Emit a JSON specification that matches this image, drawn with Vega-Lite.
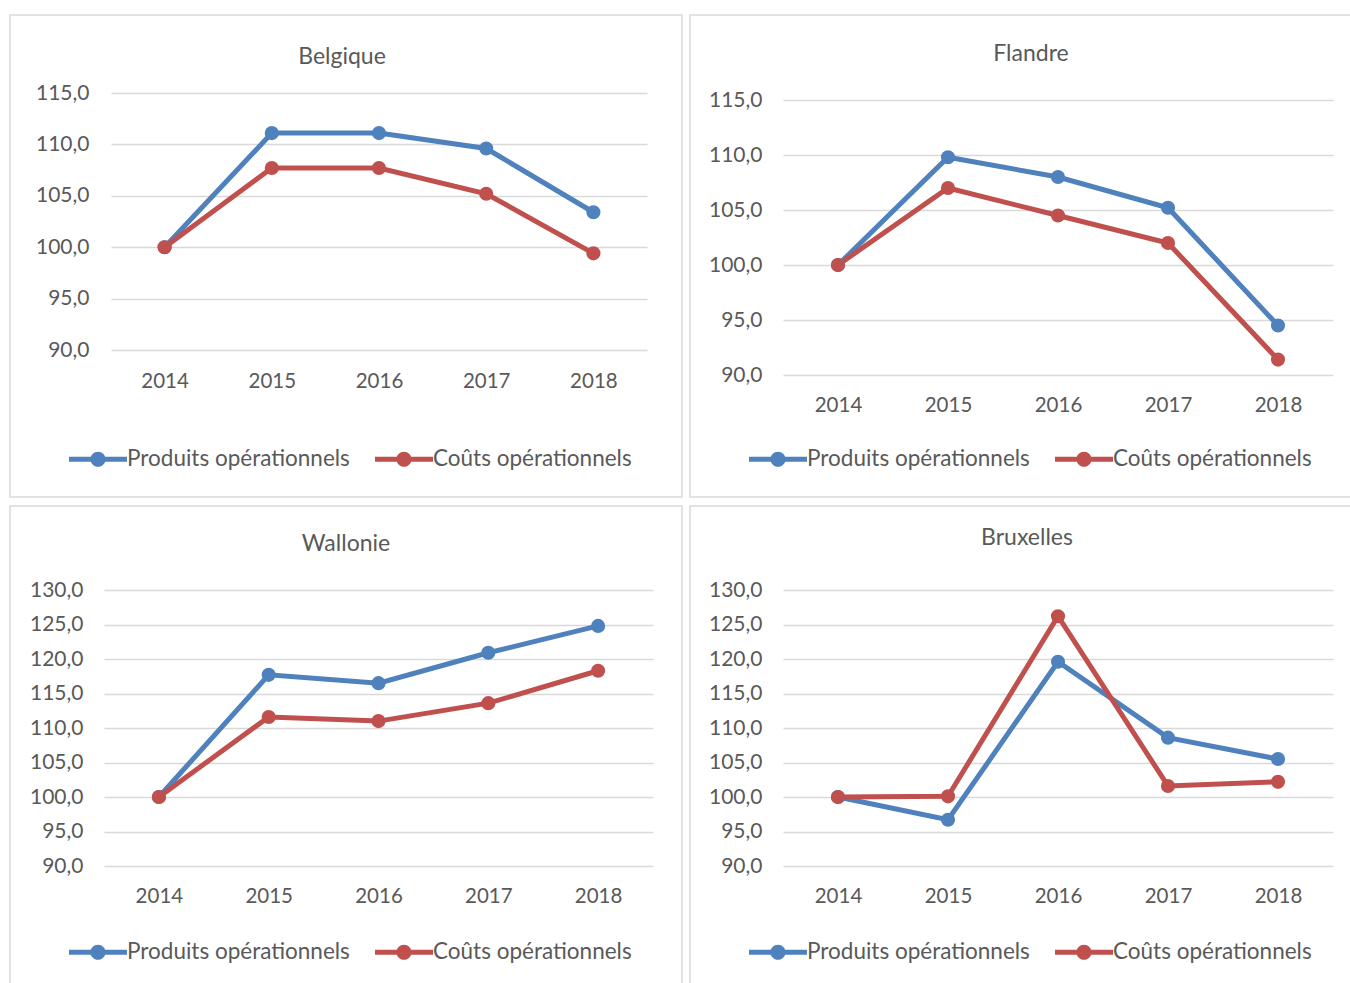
{
  "$schema": "https://vega.github.io/schema/vega-lite/v6.json",
  "padding": {"left": 9, "top": 14, "right": 0, "bottom": 0},
  "background": "white",
  "data": {"values": [
    {"region": "Belgique", "annee": "2014", "serie": "Produits opérationnels", "valeur": 100.0},
    {"region": "Belgique", "annee": "2015", "serie": "Produits opérationnels", "valeur": 111.1},
    {"region": "Belgique", "annee": "2016", "serie": "Produits opérationnels", "valeur": 111.1},
    {"region": "Belgique", "annee": "2017", "serie": "Produits opérationnels", "valeur": 109.6},
    {"region": "Belgique", "annee": "2018", "serie": "Produits opérationnels", "valeur": 103.4},
    {"region": "Flandre", "annee": "2014", "serie": "Produits opérationnels", "valeur": 100.0},
    {"region": "Flandre", "annee": "2015", "serie": "Produits opérationnels", "valeur": 109.8},
    {"region": "Flandre", "annee": "2016", "serie": "Produits opérationnels", "valeur": 108.0},
    {"region": "Flandre", "annee": "2017", "serie": "Produits opérationnels", "valeur": 105.2},
    {"region": "Flandre", "annee": "2018", "serie": "Produits opérationnels", "valeur": 94.5},
    {"region": "Wallonie", "annee": "2014", "serie": "Produits opérationnels", "valeur": 100.0},
    {"region": "Wallonie", "annee": "2015", "serie": "Produits opérationnels", "valeur": 117.7},
    {"region": "Wallonie", "annee": "2016", "serie": "Produits opérationnels", "valeur": 116.5},
    {"region": "Wallonie", "annee": "2017", "serie": "Produits opérationnels", "valeur": 120.9},
    {"region": "Wallonie", "annee": "2018", "serie": "Produits opérationnels", "valeur": 124.8},
    {"region": "Bruxelles", "annee": "2014", "serie": "Produits opérationnels", "valeur": 100.0},
    {"region": "Bruxelles", "annee": "2015", "serie": "Produits opérationnels", "valeur": 96.7},
    {"region": "Bruxelles", "annee": "2016", "serie": "Produits opérationnels", "valeur": 119.6},
    {"region": "Bruxelles", "annee": "2017", "serie": "Produits opérationnels", "valeur": 108.6},
    {"region": "Bruxelles", "annee": "2018", "serie": "Produits opérationnels", "valeur": 105.5},
    {"region": "Belgique", "annee": "2014", "serie": "Coûts opérationnels", "valeur": 100.0},
    {"region": "Belgique", "annee": "2015", "serie": "Coûts opérationnels", "valeur": 107.7},
    {"region": "Belgique", "annee": "2016", "serie": "Coûts opérationnels", "valeur": 107.7},
    {"region": "Belgique", "annee": "2017", "serie": "Coûts opérationnels", "valeur": 105.2},
    {"region": "Belgique", "annee": "2018", "serie": "Coûts opérationnels", "valeur": 99.4},
    {"region": "Flandre", "annee": "2014", "serie": "Coûts opérationnels", "valeur": 100.0},
    {"region": "Flandre", "annee": "2015", "serie": "Coûts opérationnels", "valeur": 107.0},
    {"region": "Flandre", "annee": "2016", "serie": "Coûts opérationnels", "valeur": 104.5},
    {"region": "Flandre", "annee": "2017", "serie": "Coûts opérationnels", "valeur": 102.0},
    {"region": "Flandre", "annee": "2018", "serie": "Coûts opérationnels", "valeur": 91.4},
    {"region": "Wallonie", "annee": "2014", "serie": "Coûts opérationnels", "valeur": 100.0},
    {"region": "Wallonie", "annee": "2015", "serie": "Coûts opérationnels", "valeur": 111.6},
    {"region": "Wallonie", "annee": "2016", "serie": "Coûts opérationnels", "valeur": 111.0},
    {"region": "Wallonie", "annee": "2017", "serie": "Coûts opérationnels", "valeur": 113.6},
    {"region": "Wallonie", "annee": "2018", "serie": "Coûts opérationnels", "valeur": 118.3},
    {"region": "Bruxelles", "annee": "2014", "serie": "Coûts opérationnels", "valeur": 100.0},
    {"region": "Bruxelles", "annee": "2015", "serie": "Coûts opérationnels", "valeur": 100.1},
    {"region": "Bruxelles", "annee": "2016", "serie": "Coûts opérationnels", "valeur": 126.2},
    {"region": "Bruxelles", "annee": "2017", "serie": "Coûts opérationnels", "valeur": 101.6},
    {"region": "Bruxelles", "annee": "2018", "serie": "Coûts opérationnels", "valeur": 102.2}
  ]},
  "spacing": 7,
  "resolve": {"scale": {"fill": "independent", "stroke": "independent"}, "legend": {"fill": "independent", "stroke": "independent"}},
  "vconcat": [
    {
      "spacing": 6,
      "resolve": {"scale": {"fill": "independent", "stroke": "independent"}, "legend": {"fill": "independent", "stroke": "independent"}},
      "hconcat": [
        {
          "width": 672, "height": 482,
          "title": {"text": "Belgique", "offset": -54, "dx": -4},
          "transform": [{"filter": "datum.region === 'Belgique'"}],
          "encoding": {
            "x": {"field": "annee", "type": "ordinal", "title": null, "scale": {"range": [101, 637]}, "axis": {"offset": -116}},
            "y": {"field": "valeur", "type": "quantitative", "title": null, "scale": {"domain": [90, 115], "range": [335, 78], "nice": false, "zero": false}, "axis": {"values": [90, 95, 100, 105, 110, 115], "offset": -79}}
          },
          "layer": [
            {"mark": {"type": "line", "strokeWidth": 5, "opacity": 1},
             "encoding": {"stroke": {"field": "serie", "type": "nominal", "scale": {"domain": ["Produits opérationnels", "Coûts opérationnels"], "range": ["#4f81bd", "#c0504d"]}, "legend": {"title": null, "legendX": 59, "legendY": 415}}}},
            {"mark": {"type": "point", "filled": true, "size": 200, "opacity": 1},
             "encoding": {"fill": {"field": "serie", "type": "nominal", "scale": {"domain": ["Produits opérationnels", "Coûts opérationnels"], "range": ["#4f81bd", "#c0504d"]}, "legend": {"title": null, "legendX": 59, "legendY": 415}}}}
          ]
        },
        {
          "width": 662, "height": 482,
          "title": {"text": "Flandre", "offset": -51, "dx": 10},
          "transform": [{"filter": "datum.region === 'Flandre'"}],
          "encoding": {
            "x": {"field": "annee", "type": "ordinal", "title": null, "scale": {"range": [93, 643]}, "axis": {"offset": -92}},
            "y": {"field": "valeur", "type": "quantitative", "title": null, "scale": {"domain": [90, 115], "range": [360, 85], "nice": false, "zero": false}, "axis": {"values": [90, 95, 100, 105, 110, 115], "offset": -72}}
          },
          "layer": [
            {"mark": {"type": "line", "strokeWidth": 5, "opacity": 1},
             "encoding": {"stroke": {"field": "serie", "type": "nominal", "scale": {"domain": ["Produits opérationnels", "Coûts opérationnels"], "range": ["#4f81bd", "#c0504d"]}, "legend": {"title": null, "legendX": 59, "legendY": 415}}}},
            {"mark": {"type": "point", "filled": true, "size": 200, "opacity": 1},
             "encoding": {"fill": {"field": "serie", "type": "nominal", "scale": {"domain": ["Produits opérationnels", "Coûts opérationnels"], "range": ["#4f81bd", "#c0504d"]}, "legend": {"title": null, "legendX": 59, "legendY": 415}}}}
          ]
        }
      ]
    },
    {
      "spacing": 6,
      "resolve": {"scale": {"fill": "independent", "stroke": "independent"}, "legend": {"fill": "independent", "stroke": "independent"}},
      "hconcat": [
        {
          "width": 672, "height": 480,
          "title": {"text": "Wallonie", "offset": -50},
          "transform": [{"filter": "datum.region === 'Wallonie'"}],
          "encoding": {
            "x": {"field": "annee", "type": "ordinal", "title": null, "scale": {"range": [94, 643]}, "axis": {"offset": -90}},
            "y": {"field": "valeur", "type": "quantitative", "title": null, "scale": {"domain": [90, 130], "range": [360, 84], "nice": false, "zero": false}, "axis": {"values": [90, 95, 100, 105, 110, 115, 120, 125, 130], "offset": -73}}
          },
          "layer": [
            {"mark": {"type": "line", "strokeWidth": 5, "opacity": 1},
             "encoding": {"stroke": {"field": "serie", "type": "nominal", "scale": {"domain": ["Produits opérationnels", "Coûts opérationnels"], "range": ["#4f81bd", "#c0504d"]}, "legend": {"title": null, "legendX": 59, "legendY": 417}}}},
            {"mark": {"type": "point", "filled": true, "size": 200, "opacity": 1},
             "encoding": {"fill": {"field": "serie", "type": "nominal", "scale": {"domain": ["Produits opérationnels", "Coûts opérationnels"], "range": ["#4f81bd", "#c0504d"]}, "legend": {"title": null, "legendX": 59, "legendY": 417}}}}
          ]
        },
        {
          "width": 662, "height": 480,
          "title": {"text": "Bruxelles", "offset": -44, "dx": 6},
          "transform": [{"filter": "datum.region === 'Bruxelles'"}],
          "encoding": {
            "x": {"field": "annee", "type": "ordinal", "title": null, "scale": {"range": [93, 643]}, "axis": {"offset": -90}},
            "y": {"field": "valeur", "type": "quantitative", "title": null, "scale": {"domain": [90, 130], "range": [360, 84], "nice": false, "zero": false}, "axis": {"values": [90, 95, 100, 105, 110, 115, 120, 125, 130], "offset": -72}}
          },
          "layer": [
            {"mark": {"type": "line", "strokeWidth": 5, "opacity": 1},
             "encoding": {"stroke": {"field": "serie", "type": "nominal", "scale": {"domain": ["Produits opérationnels", "Coûts opérationnels"], "range": ["#4f81bd", "#c0504d"]}, "legend": {"title": null, "legendX": 59, "legendY": 417}}}},
            {"mark": {"type": "point", "filled": true, "size": 200, "opacity": 1},
             "encoding": {"fill": {"field": "serie", "type": "nominal", "scale": {"domain": ["Produits opérationnels", "Coûts opérationnels"], "range": ["#4f81bd", "#c0504d"]}, "legend": {"title": null, "legendX": 59, "legendY": 417}}}}
          ]
        }
      ]
    }
  ],
  "config": {
    "view": {"stroke": "#d9d9d9", "strokeWidth": 1.5},
    "font": "Lato",
    "axis": {"domain": false, "ticks": false, "tickSize": 0, "labelPadding": 0, "labelFont": "Lato", "labelFontSize": 20.5, "labelColor": "#595959", "gridColor": "#d9d9d9", "gridWidth": 1.5},
    "axisX": {"grid": false, "labelAngle": 0, "labelBaseline": "middle"},
    "axisY": {"grid": true, "labelFontSize": 21, "labelExpr": "replace(format(datum.value, '.1f'), '.', ',')", "labelBaseline": "middle", "labelAlign": "right"},
    "title": {"font": "Lato", "fontSize": 23, "fontWeight": "normal", "color": "#595959", "baseline": "middle", "anchor": "middle"},
    "legend": {
      "orient": "none", "direction": "horizontal",
      "symbolType": "M-1,-0.086L1,-0.086L1,0.086L-1,0.086Z M0.26,0A0.26,0.26,0,1,1,-0.26,0A0.26,0.26,0,1,1,0.26,0Z",
      "symbolSize": 3364, "symbolStrokeWidth": 0, "symbolOpacity": 1,
      "labelFont": "Lato", "labelFontSize": 22.5, "labelColor": "#595959", "labelOffset": 0, "labelLimit": 0, "columnPadding": 25
    }
  }
}
